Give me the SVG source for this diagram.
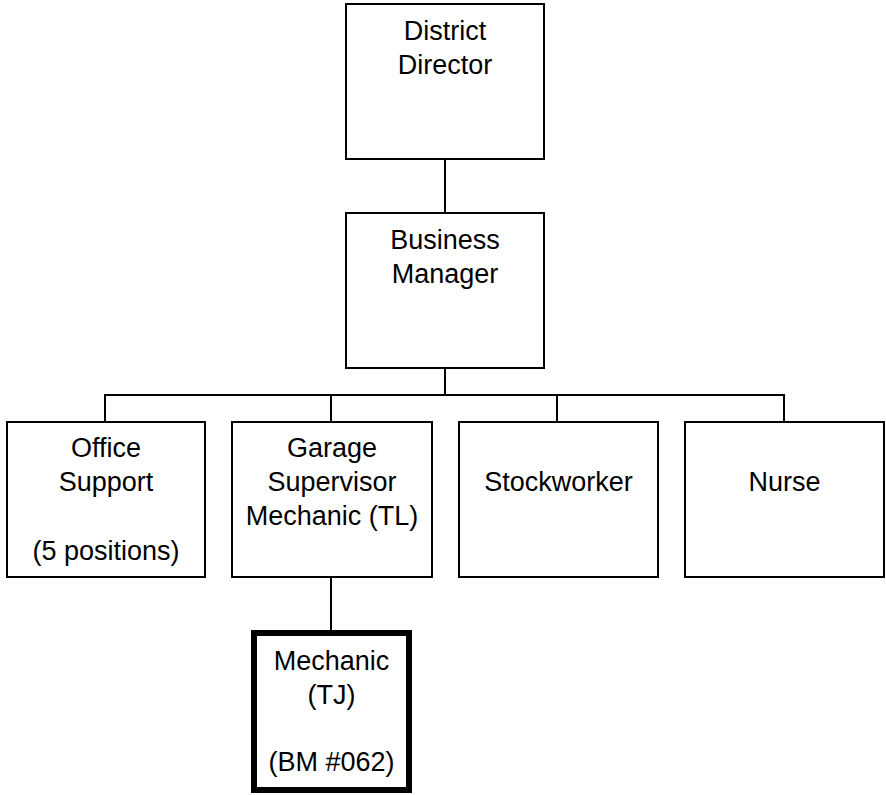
<svg xmlns="http://www.w3.org/2000/svg" width="886" height="795" viewBox="0 0 886 795">
<style>
.box{fill:#fff;stroke:#000;stroke-width:2}
.thick{fill:#fff;stroke:#000;stroke-width:6}
.conn{fill:none;stroke:#000;stroke-width:2}
text{font-family:"Liberation Sans",Arial,sans-serif;font-size:27px;fill:#000;text-anchor:middle}
</style>
<rect width="886" height="795" fill="#fff"/>
<g id="connectors">
<line class="conn" x1="445" y1="159" x2="445" y2="213"/>
<line class="conn" x1="445" y1="368" x2="445" y2="395"/>
<polyline class="conn" points="105,422 105,395 784,395 784,422"/>
<line class="conn" x1="331" y1="395" x2="331" y2="422"/>
<line class="conn" x1="557" y1="395" x2="557" y2="422"/>
<line class="conn" x1="331" y1="577" x2="331" y2="633"/>
</g>
<g id="district-director">
<rect class="box" x="346" y="4" width="198" height="155"/>
<text x="445" y="40">District</text>
<text x="445" y="74">Director</text>
</g>
<g id="business-manager">
<rect class="box" x="346" y="213" width="198" height="155"/>
<text x="445" y="249">Business</text>
<text x="445" y="283">Manager</text>
</g>
<g id="office-support">
<rect class="box" x="7" y="422" width="198" height="155"/>
<text x="106" y="457">Office</text>
<text x="106" y="491">Support</text>
<text x="106" y="560">(5 positions)</text>
</g>
<g id="garage-supervisor">
<rect class="box" x="232" y="422" width="200" height="155"/>
<text x="332" y="457">Garage</text>
<text x="332" y="491">Supervisor</text>
<text x="332" y="525">Mechanic (TL)</text>
</g>
<g id="stockworker">
<rect class="box" x="459" y="422" width="199" height="155"/>
<text x="558.5" y="491">Stockworker</text>
</g>
<g id="nurse">
<rect class="box" x="685" y="422" width="199" height="155"/>
<text x="784.5" y="491">Nurse</text>
</g>
<g id="mechanic">
<rect class="thick" x="254" y="633" width="155" height="157"/>
<text x="331.5" y="670">Mechanic</text>
<text x="331.5" y="704">(TJ)</text>
<text x="331.5" y="771">(BM #062)</text>
</g>
</svg>
